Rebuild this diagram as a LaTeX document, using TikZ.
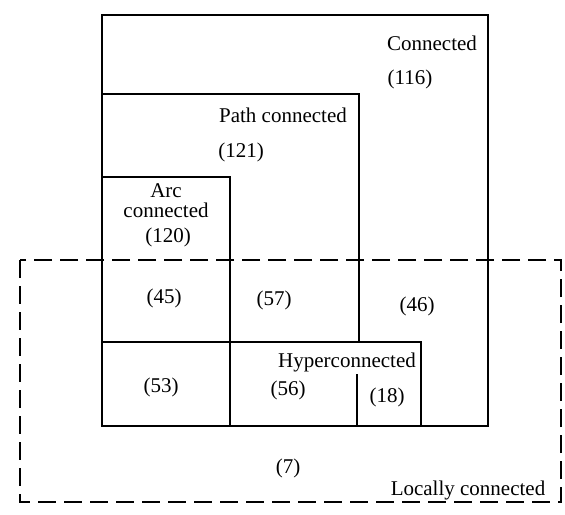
\documentclass[tikz,border=0pt]{standalone}
\usepackage{fontspec}
\setmainfont{Liberation Serif}
\usepackage{tikz}
\usetikzlibrary{positioning}
\tikzset{
  region/.style={draw=black,line width=1pt,line join=miter},
  nbhd/.style={draw=black,line width=1pt,dash pattern=on 9pt off 4pt},
  tag/.style={font=\fontsize{10.5}{10}\selectfont,inner sep=1pt,align=center},
  count/.style={tag}
}
\begin{document}
\begin{tikzpicture}[x=0.5pt,y=-0.5pt]
  \useasboundingbox (0,0) rectangle (565,514);
  % nested regions, all sharing the left edge
  \draw[region] (102,15) rectangle (488,426);   % connected
  \draw[region] (102,94) -- (359,94) -- (359,342); % path connected
  \draw[region] (102,177) -- (230,177) -- (230,426); % arc connected
  \draw[region] (102,342) -- (421,342) -- (421,426); % hyperconnected
  \draw[region] (357,374) -- (357,426);
  % locally connected
  \draw[nbhd] (20,260) rectangle (561,502);
  % labels
  \node[tag] (conn) at (432,43) {Connected};
  \node[count] (n116) at (410,79) {(116)};
  \node[tag] (path) at (283,115) {Path connected};
  \node[count] (n121) at (241,152) {(121)};
  \node[tag] (arc) at (166,201) {Arc\\connected};
  \node[count] (n120) at (168,237) {(120)};
  \node[count] (n45) at (164,298) {(45)};
  \node[count] (n57) at (274,300) {(57)};
  \node[count] (n46) at (417,306) {(46)};
  \node[tag] (hyper) at (347,362) {Hyperconnected};
  \node[count] (n53) at (161,387) {(53)};
  \node[count] (n56) at (288,390) {(56)};
  \node[count] (n18) at (387,397) {(18)};
  \node[count] (n7) at (288,468) {(7)};
  \node[tag] (local) at (468,490) {Locally connected};
\end{tikzpicture}
\end{document}
